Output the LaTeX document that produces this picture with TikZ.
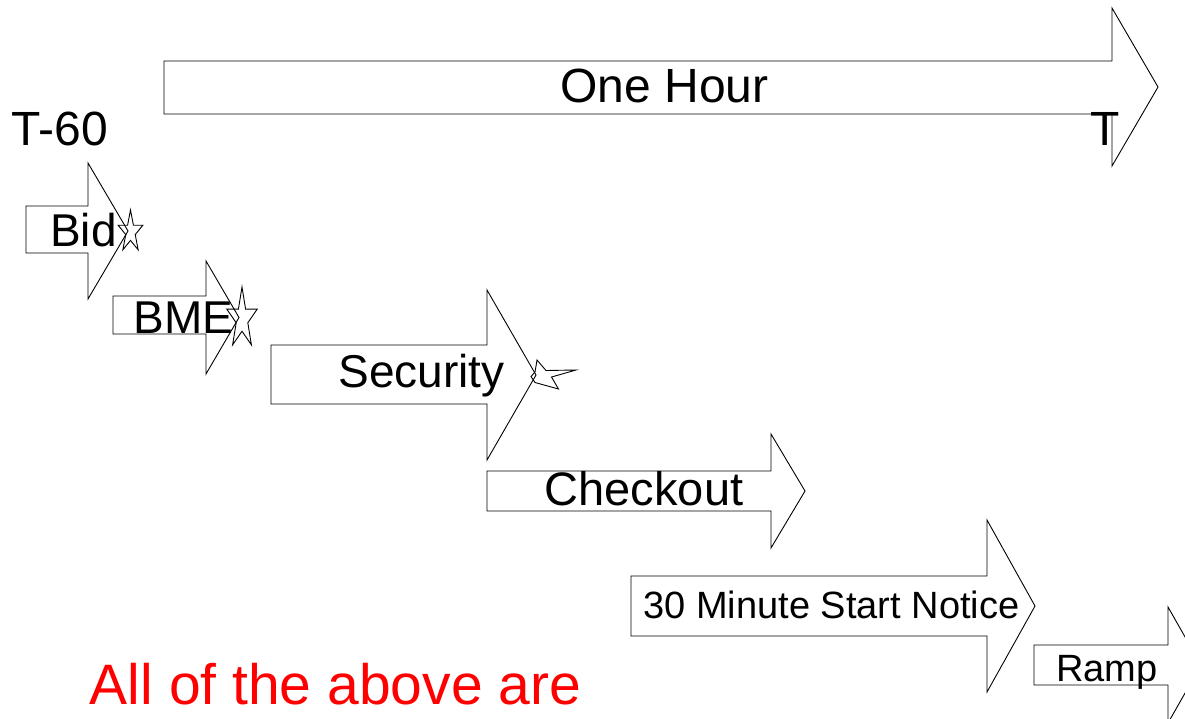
\documentclass[tikz,border=0pt]{standalone}
\usepackage{fontspec}
\setmainfont{Liberation Sans}
\usepackage{tikz}
\definecolor{alertred}{RGB}{255,0,0}

% block arrow: left x, body top, body bottom, head x, head top, head bottom, tip x
\newcommand{\blockarrow}[7]{%
  \draw[arrowline] (#1,#2) -- (#4,#2) -- (#4,#5) -- (#7,{(#5+#6)/2}) -- (#4,#6) -- (#4,#3) -- (#1,#3) -- cycle;}
% five point star: centre x, centre y, x radius, y radius
\newcommand{\starmark}[4]{%
  \draw[arrowline, shift={(#1,#2)}, xscale=#3, yscale=#4]
    (270:1) -- (306:0.382) -- (342:1) -- (18:0.382) -- (54:1) -- (90:0.382)
    -- (126:1) -- (162:0.382) -- (198:1) -- (234:0.382) -- cycle;}

\begin{document}
\begin{tikzpicture}[x=1pt, y=-1pt,
    arrowline/.style={draw=black, line width=0.9pt, line join=miter},
    lbl/.style={inner sep=0pt, anchor=base, font=\fontsize{#1}{#1}\selectfont}]
    \useasboundingbox (0,0) rectangle (1185,718);
    \clip (0,0) rectangle (1185,718);

    % the hour
    \blockarrow{164}{61}{114}{1112}{8}{166}{1158}
    \node[lbl=48] (hour) at (664.5,102) {One Hour};
    \node[lbl=48] (tstart) at (60,145) {T-60};
    \node[lbl=48] (tend) at (1105,145) {T};

    % steps
    \blockarrow{26}{206}{253}{88}{163}{299}{128}
    \node[lbl=46] (bid) at (83.5,246) {Bid};
    \starmark{130.5}{232}{13}{22}

    \blockarrow{113}{296}{334}{206}{261}{374}{239}
    \node[lbl=46] (bme) at (183.5,333) {BME};
    \starmark{242}{319}{16}{32}

    \blockarrow{271}{345}{404}{487}{290}{460}{536}
    \node[lbl=46] (security) at (421.5,387) {Security};
    \draw[arrowline] (537,360) -- (546,370.5) -- (576,370) -- (551.5,377) -- (558.5,389)
        -- (535,382.5) -- (531,376.5) -- (535,372) -- cycle;

    \blockarrow{487}{471}{511}{771}{434}{548}{805}
    \node[lbl=47] (checkout) at (644,505) {Checkout};

    \blockarrow{631}{576}{636}{987}{520}{692}{1035}
    \node[lbl=38] (notice) at (831.5,618) {30 Minute Start Notice};

    \blockarrow{1034}{645}{685}{1168}{607}{723}{1201}
    \node[lbl=38] (ramp) at (1107,681) {Ramp};

    \node[lbl=57, text=alertred] (note) at (335.5,704) {All of the above are};
\end{tikzpicture}
\end{document}
